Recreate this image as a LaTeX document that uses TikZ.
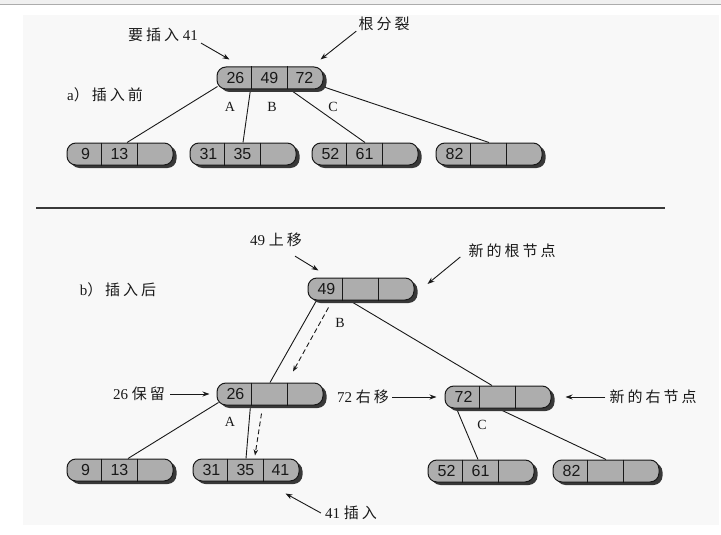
\documentclass[tikz,border=0pt]{standalone}
\usepackage{fontspec}
\setmainfont{Liberation Serif}
\newfontfamily\cjk[LetterSpace=20]{Noto Sans CJK SC}
\newfontfamily\numfont{Liberation Sans}
\usetikzlibrary{calc,shadows,arrows.meta}
\pgfdeclarelayer{bglayer}
\pgfdeclarelayer{lines}
\pgfsetlayers{bglayer,lines,main}
\definecolor{nodefill}{gray}{0.68}
\definecolor{shadowc}{gray}{0.22}
\definecolor{pagebg}{gray}{0.972}
\definecolor{inkc}{gray}{0.10}
\tikzset{
  bnode/.style={draw=inkc, line width=1pt, fill=nodefill, rounded corners=9pt,
    minimum width=106pt, minimum height=22pt, inner sep=0pt,
    drop shadow={shadow xshift=3.5pt, shadow yshift=-3pt, fill=shadowc, opacity=1}},
  celldiv/.style={draw=inkc, line width=0.8pt},
  cellnum/.style={font=\numfont\fontsize{16}{16}\selectfont, text=inkc, inner sep=0pt},
  link/.style={draw=inkc, line width=0.9pt},
  dlink/.style={draw=inkc, line width=0.9pt, dash pattern=on 5pt off 3pt,
    -{Stealth[length=6pt,width=4.5pt]}},
  pointer/.style={draw=inkc, line width=0.9pt, -{Stealth[length=7pt,width=5pt]}},
  ann/.style={font=\fontsize{15}{17}\selectfont, text=inkc, inner sep=0pt},
  lbl/.style={font=\fontsize{14}{15}\selectfont, text=inkc, inner sep=0pt},
}
\newcommand\btnode[6]{%
  \node[bnode] (#1) at (#2,#3) {};
  \draw[celldiv] ($(#1.north west)+(35,0)$) -- ($(#1.south west)+(35,0)$);
  \draw[celldiv] ($(#1.north west)+(71,0)$) -- ($(#1.south west)+(71,0)$);
  \node[cellnum] (#1-a) at ($(#1.west)+(19,0)$) {#4};
  \node[cellnum] (#1-b) at ($(#1.west)+(53,0)$) {#5};
  \node[cellnum] (#1-c) at ($(#1.west)+(88,0)$) {#6};
}
\begin{document}
\begin{tikzpicture}[x=1pt,y=-1pt]
\useasboundingbox (0,0) rectangle (721,535);
\begin{pgfonlayer}{bglayer}
  \fill[white] (0,0) rectangle (721,535);
  \fill[gray!12] (0,0) rectangle (721,4);
  \draw[gray!65, line width=1pt] (0,4.5) -- (721,4.5);
  \fill[pagebg] (23,15) rectangle (719,525);
\end{pgfonlayer}

% ---------- a) before ----------
\btnode{R}{270}{78}{26}{49}{72}
\btnode{L1}{120}{154}{9}{13}{}
\btnode{L2}{243}{154}{31}{35}{}
\btnode{L3}{365}{154}{52}{61}{}
\btnode{L4}{489}{154}{82}{}{}

\begin{pgfonlayer}{lines}
  \draw[link] ($(R.south west)+(1,-3)$) -- ($(L1.north)+(7,0)$);
  \draw[link] ($(R.south west)+(34,0)$) -- (L2.north);
  \draw[link] ($(R.south)+(20,0)$) -- (L3.north);
  \draw[link] ($(R.south east)+(-4,-4)$) -- (L4.north);
\end{pgfonlayer}

\node[lbl] (la) at (230,107) {A};
\node[lbl] (lb) at (272,107) {B};
\node[lbl] (lc) at (333,107) {C};

\node[ann] (tins) at (163,35) {{\cjk 要插入}\ 41};
\draw[pointer] ($(tins.south east)+(3,1)$) -- ($(R.north west)+(13,-7)$);
\node[ann] (tsplit) at (384,24) {\cjk 根分裂};
\draw[pointer] ($(tsplit.south west)+(-2,0)$) -- ($(R.north east)+(-3,-7)$);
\node[ann] (ta) at (105,95) {a{\cjk ）插入前}};

% separator
\draw[gray!45!black, line width=1.1pt] (36,208) -- (665,208);

% ---------- b) after ----------
\btnode{N49}{361}{289}{49}{}{}
\btnode{N26}{270}{394}{26}{}{}
\btnode{N72}{498}{397}{72}{}{}
\btnode{B1}{120}{470}{9}{13}{}
\btnode{B2}{246}{470}{31}{35}{41}
\btnode{B3}{481}{471}{52}{61}{}
\btnode{B4}{606}{471}{82}{}{}

\begin{pgfonlayer}{lines}
  \draw[link] ($(N49.south west)+(9,0)$) -- (N26.north);
  \draw[link] ($(N49.south west)+(42,0)$) -- ($(N72.north)+(-6,0)$);
  \draw[link] ($(N26.south west)+(2,-3)$) -- ($(B1.north)+(8,0)$);
  \draw[link] ($(N26.south west)+(34,0)$) -- (B2.north);
  \draw[link] ($(N72.south west)+(12,0)$) -- ($(B3.north)+(-3,0)$);
  \draw[link] (N72.south) -- (B4.north);
\end{pgfonlayer}
\draw[dlink] ($(N49.south west)+(21,7)$) -- ($(N26.north)+(23,-11)$);
\draw[dlink] ($(N26.south west)+(45,8)$) -- ($(B2.north)+(9,-3)$);

\node[lbl] (lb2) at (340,323) {B};
\node[lbl] (la2) at (230,422) {A};
\node[lbl] (lc2) at (482,425) {C};

\node[ann] (tup) at (276,240) {49\ {\cjk 上移}};
\draw[pointer] ($(tup.south)+(19,9)$) -- ($(N49.north west)+(11,-7)$);
\node[ann] (tnr) at (512,251) {\cjk 新的根节点};
\draw[pointer] ($(tnr.west)+(-8,6)$) -- ($(N49.east)+(13,-5)$);
\node[ann] (tb) at (118,290) {b{\cjk ）插入后}};

\node[ann] (tkeep) at (139,394) {26\ {\cjk 保留}};
\draw[pointer] ($(tkeep.east)+(5,0)$) -- ($(N26.west)+(-7,0)$);
\node[ann] (tmove) at (363,397) {72\ {\cjk 右移}};
\draw[pointer] ($(tmove.east)+(3,0)$) -- ($(N72.west)+(-8,0)$);
\node[ann] (tnew) at (653,397) {\cjk 新的右节点};
\draw[pointer] ($(tnew.west)+(-4,0)$) -- ($(N72.east)+(14,0)$);
\node[ann] (tin41) at (351,513) {41\ {\cjk 插入}};
\draw[pointer] ($(tin41.west)+(-4,0)$) -- ($(B2.south east)+(-14,12)$);
\end{tikzpicture}
\end{document}
